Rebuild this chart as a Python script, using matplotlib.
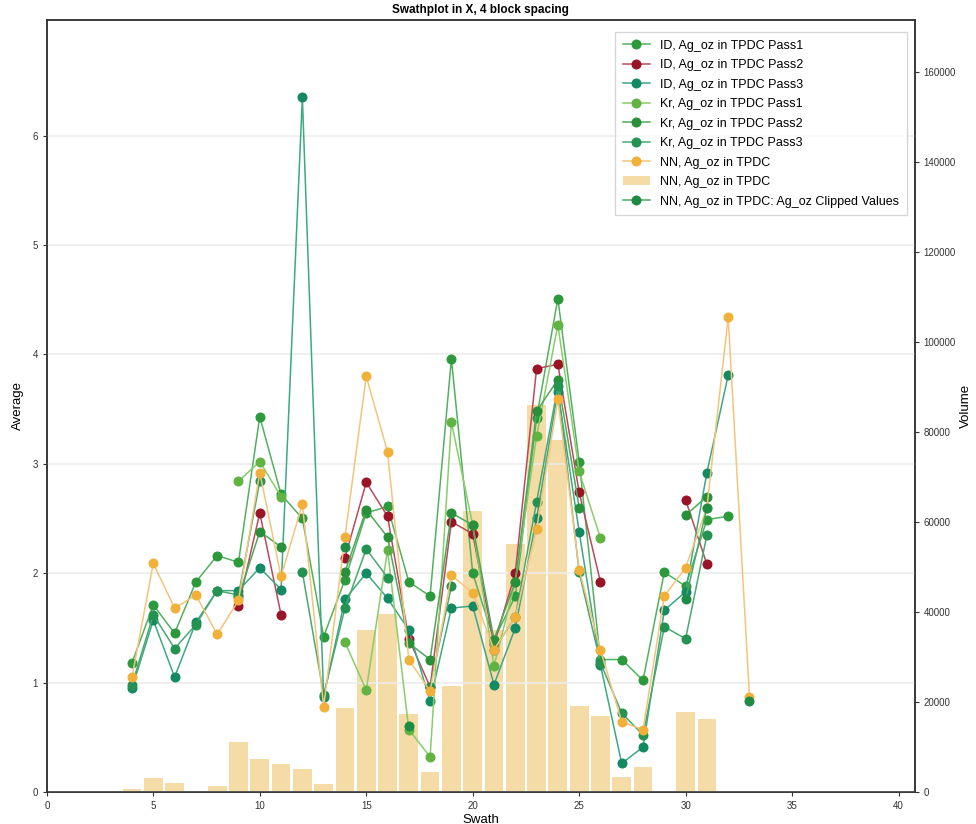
import numpy as np
import matplotlib
matplotlib.use("Agg")
import matplotlib.pyplot as plt

plt.rcParams['font.family'] = ['Liberation Sans', 'DejaVu Sans']

nan = np.nan
swath = list(range(4, 34))

# Average Ag_oz per swath for each estimation run (NaN = no blocks in swath)
id_pass1 = [1.18, 1.71, 1.45, 1.92, 2.16, 2.10, 3.43, 2.72, 2.50, 1.42,
            1.94, 2.55, 2.61, 1.92, 1.79, 3.96, 2.00, 1.39, 1.79, 3.42,
            4.51, 3.02, 1.21, 1.21, 1.02, 2.01, 1.88, 2.49, 2.52, nan]
id_pass2 = [nan, nan, nan, nan, nan, 1.70, 2.55, 1.62, nan, nan,
            2.14, 2.83, 2.52, 1.40, 0.96, 2.47, 2.36, 1.35, 2.00, 3.87,
            3.91, 2.74, 1.92, nan, nan, nan, 2.67, 2.08, nan, nan]
id_pass3 = [0.95, 1.57, 1.05, 1.55, 1.84, 1.84, 2.05, 1.85, 6.35, 0.87,
            1.76, 2.00, 1.77, 1.48, 0.83, 1.68, 1.70, 0.98, 1.50, 2.50,
            3.66, 2.38, 1.16, 0.26, 0.41, 1.66, 1.83, 2.92, 3.81, nan]
kr_pass1 = [nan, nan, nan, nan, nan, 2.84, 3.02, 2.70, nan, nan,
            1.37, 0.93, 2.21, 0.57, 0.32, 3.38, 2.44, 1.15, 1.92, 3.25,
            4.27, 2.93, 2.32, nan, nan, nan, nan, nan, nan, nan]
kr_pass2 = [nan, nan, nan, nan, nan, 1.78, 2.38, 2.24, nan, nan,
            2.01, 2.58, 2.33, 1.36, 1.21, 2.55, 2.44, 1.39, 1.92, 3.48,
            3.77, 2.60, nan, nan, nan, nan, 2.53, 2.70, nan, nan]
kr_pass3 = [0.98, 1.62, 1.31, 1.53, 1.84, 1.80, 2.84, nan, 2.01, 0.89,
            1.68, 2.22, 1.96, nan, 0.96, 1.88, nan, 1.30, 1.60, 2.65,
            3.71, 2.01, 1.18, 0.72, 0.52, 1.51, 1.40, 2.35, nan, nan]
nn_avg = [1.05, 2.09, 1.68, 1.80, 1.44, 1.75, 2.92, 1.97, 2.63, 0.78,
          2.33, 3.80, 3.11, 1.21, 0.92, 1.98, 1.82, 1.30, 1.60, 2.40,
          3.59, 2.03, 1.30, 0.64, 0.57, 1.79, 2.05, 2.60, 4.34, 0.87]
nn_clipped = [nan, nan, nan, nan, nan, nan, nan, nan, nan, nan,
              2.24, nan, nan, 0.60, nan, nan, nan, nan, nan, nan,
              nan, nan, nan, nan, nan, nan, 1.76, 2.60, nan, 0.83]
nn_volume = [600, 3000, 2000, 200, 1200, 11000, 7400, 6200, 5000, 1800,
             18700, 36000, 39500, 17300, 4400, 23600, 62400, 36000, 55000, 86000,
             78200, 19100, 16900, 3300, 5600, 300, 17800, 16200, 200, 200]

series = [
    ("ID, Ag_oz in TPDC Pass1", id_pass1, "#52b060", "#2c9a3c"),
    ("ID, Ag_oz in TPDC Pass2", id_pass2, "#b84a5c", "#9a1428"),
    ("ID, Ag_oz in TPDC Pass3", id_pass3, "#3ca884", "#148a62"),
    ("Kr, Ag_oz in TPDC Pass1", kr_pass1, "#88cc6c", "#62b442"),
    ("Kr, Ag_oz in TPDC Pass2", kr_pass2, "#4ea85c", "#28903a"),
    ("Kr, Ag_oz in TPDC Pass3", kr_pass3, "#4aa870", "#249250"),
    ("NN, Ag_oz in TPDC", nn_avg, "#f4c47c", "#f0b03a"),
]

fig = plt.figure(figsize=(9.76, 8.24), dpi=100)
ax = fig.add_axes([0.048, 0.039, 0.889, 0.937])
ax2 = ax.twinx()

bars = ax2.bar(swath, nn_volume, width=0.88, color="#f5d9a0", alpha=0.95,
               label="NN, Ag_oz in TPDC", zorder=1)

handles = []
for label, vals, lc, mc in series:
    h, = ax.plot(swath, vals, color=lc, lw=1.1, marker="o", ms=6.2,
                 mfc=mc, mec=mc, label=label, zorder=3)
    handles.append(h)
hc, = ax.plot(swath, nn_clipped, color="#4aa866", lw=1.1, marker="o", ms=6.2,
              mfc="#1f8c46", mec="#1f8c46",
              label="NN, Ag_oz in TPDC: Ag_oz Clipped Values", zorder=3)
handles.append(bars)
handles.append(hc)

ax.set_zorder(ax2.get_zorder() + 1)
ax.patch.set_visible(False)

ax.set_xlim(0, 40.75)
ax.set_ylim(0, 7.06)
ax2.set_ylim(0, 171500)
ax.set_xticks(range(0, 41, 5))
ax.set_yticks(range(0, 7))
ax2.set_yticks(range(0, 160001, 20000))
ax.grid(axis="y", color="#ececec", lw=1.2)
ax.set_axisbelow(True)

for a in (ax, ax2):
    a.tick_params(labelsize=7, length=3, width=0.8, colors="#333333")
    for s in a.spines.values():
        s.set_color("#333333")
        s.set_linewidth(1.1)

ax.set_xlabel("Swath", fontsize=9.5, labelpad=2)
ax.set_ylabel("Average", fontsize=9.5, labelpad=6)
ax2.set_ylabel("Volume", fontsize=9.5, labelpad=3)
ax.set_title("Swathplot in X, 4 block spacing", fontsize=8.5, fontweight="bold", pad=5)

ax.legend(handles=handles, loc="upper right", fontsize=9, frameon=True,
          fancybox=False, edgecolor="#cccccc", borderpad=0.6, labelspacing=0.6,
          handlelength=2.2, bbox_to_anchor=(0.998, 0.992))

fig.savefig("out.png", dpi=100)
